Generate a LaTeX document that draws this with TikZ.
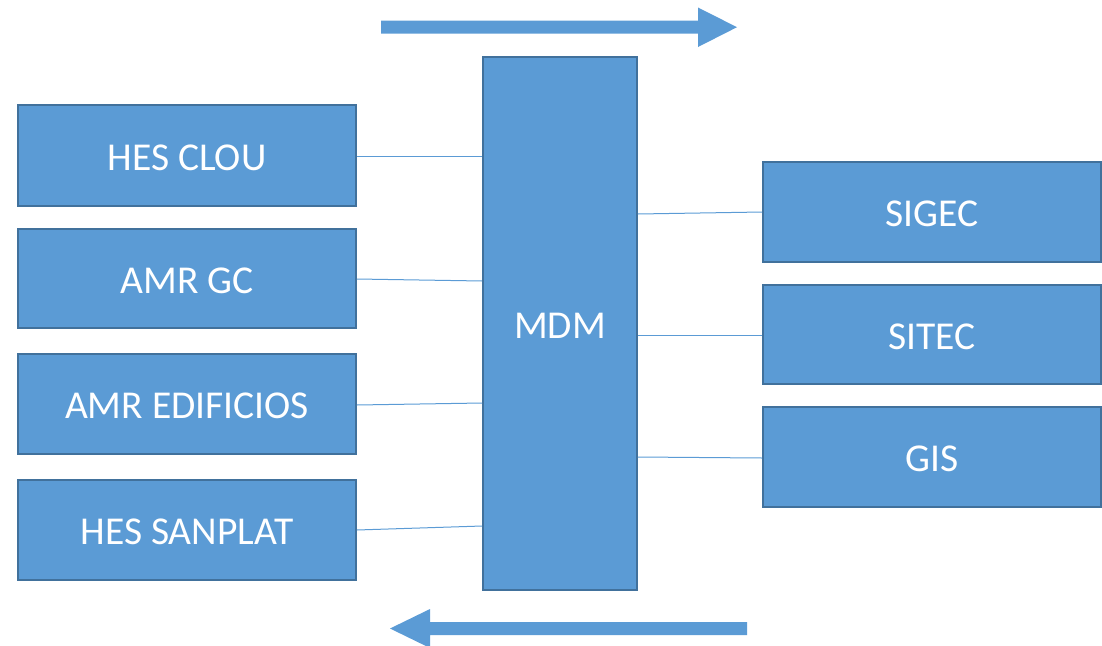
\documentclass[tikz,border=0pt]{standalone}
\usepackage{fontspec}
\setmainfont{Carlito}
\definecolor{boxfill}{HTML}{5B9BD5}
\definecolor{boxline}{HTML}{41719C}
\begin{document}
\begin{tikzpicture}[x=1pt,y=-1pt,
  blk/.style={draw=boxline, fill=boxfill, line width=1.6pt, inner sep=0pt,
    text=white, font=\fontsize{39.5}{41}\selectfont, text height=29pt, text depth=0pt},
  lbox/.style={blk, minimum width=338pt},
  link/.style={draw=boxfill, line width=1pt},
  bigarrow/.style={fill=boxfill, draw=none}]
\useasboundingbox (0,0) rectangle (1102,645);
% left boxes
\node[lbox, minimum height=101pt] (hc) at (187,155.5) {HES CLOU};
\node[lbox, minimum height=99pt]  (ag) at (187,278.5) {AMR GC};
\node[lbox, minimum height=100pt] (ae) at (187,404) {AMR EDIFICIOS};
\node[lbox, minimum height=100pt] (hs) at (187,530) {HES SANPLAT};
% center
\node[blk, minimum width=154pt, minimum height=533pt] (mdm) at (560,323.5) {MDM};
% right boxes
\node[lbox, minimum height=100pt] (sg) at (932,212) {SIGEC};
\node[lbox, minimum height=99pt]  (st) at (932,334.5) {SITEC};
\node[lbox, minimum height=100pt] (gis) at (932,457) {GIS};
% connectors
\draw[link] (hc.east |- 0,156) -- (mdm.west |- 0,156);
\draw[link] (ag.east |- 0,279) -- (mdm.west |- 0,281);
\draw[link] (ae.east |- 0,405) -- (mdm.west |- 0,403);
\draw[link] (hs.east |- 0,530) -- (mdm.west |- 0,526);
\draw[link] (mdm.east |- 0,214) -- (sg.west |- 0,212);
\draw[link] (mdm.east |- 0,335) -- (st.west |- 0,335);
\draw[link] (mdm.east |- 0,457) -- (gis.west |- 0,458);
% flow arrows
\fill[bigarrow] (381,20.7) -- (698,20.7) -- (698,7.5) -- (737,27.2) -- (698,47) -- (698,33.7) -- (381,33.7) -- cycle;
\fill[bigarrow] (747,622) -- (430,622) -- (430,609) -- (390,628.5) -- (430,648) -- (430,635) -- (747,635) -- cycle;
\end{tikzpicture}
\end{document}
